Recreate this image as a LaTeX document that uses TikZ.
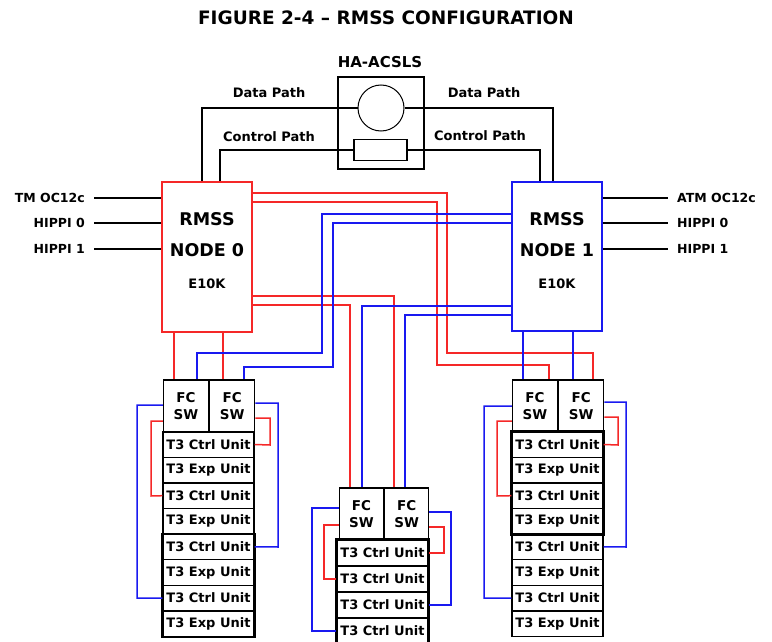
\documentclass[tikz,border=0pt]{standalone}
\usepackage{fontspec}
\setmainfont{DejaVu Sans}
\usetikzlibrary{positioning}
\definecolor{wred}{RGB}{245,40,40}
\definecolor{wblue}{RGB}{25,25,240}

\begin{document}
\begin{tikzpicture}[x=1pt,y=-1pt,
  box/.style={draw, line width=1.3pt, inner sep=0pt},
  redw/.style={wred, line width=1.5pt},
  bluew/.style={wblue, line width=1.5pt},
  blkw/.style={black, line width=1.3pt},
  swbox/.style={box, minimum width=45pt, minimum height=52pt, align=center,
    font=\bfseries\fontsize{13.5}{17}\selectfont},
  unit/.style={box, minimum width=91pt, minimum height=25.6pt,
    font=\bfseries\fontsize{13}{15}\selectfont},
  side/.style={font=\bfseries\fontsize{12.5}{15}\selectfont, inner xsep=9pt},
  pathlbl/.style={font=\bfseries\fontsize{13}{15}\selectfont},
  big/.style={font=\bfseries\fontsize{17.5}{20}\selectfont},
  small/.style={font=\bfseries\fontsize{13}{15}\selectfont}]
\useasboundingbox (0,0) rectangle (772,642);
% Title
\node[font=\bfseries\fontsize{18.5}{22}\selectfont] (title) at (386,18) {FIGURE 2-4 – RMSS CONFIGURATION};
% HA-ACSLS
\node[font=\bfseries\fontsize{15}{18}\selectfont] (hatxt) at (380,62) {HA-ACSLS};
\node[box, minimum width=86pt, minimum height=92pt] (ha) at (381,123) {};
\node[draw, circle, line width=1pt, minimum size=46pt, inner sep=0pt] (circ) at (381,108) {};
\node[draw, line width=1.2pt, minimum width=53pt, minimum height=21.5pt, inner sep=0pt] (ctl) at (380.5,150) {};
% RMSS nodes
\node[box, draw=wred, minimum width=90pt, minimum height=150pt] (n0) at (207,257) {};
\node[box, draw=wblue, minimum width=90pt, minimum height=149pt] (n1) at (557,256.5) {};
\foreach \x/\k in {207/0,557/1} {
  \node[big] (rmss\k) at (\x,219) {RMSS};
  \node[big] (name\k) at (\x,250) {NODE \k};
  \node[small] (host\k) at (\x,284) {E10K};
}
% outside links
\foreach \txt/\y/\i in {TM OC12c/198/a,HIPPI 0/223/b,HIPPI 1/249/c} {
  \node[side, anchor=east] (inl\i) at (94,\y) {\txt};
  \draw[blkw] (inl\i.east) -- (n0.west |- inl\i.east);
}
\foreach \txt/\y/\i in {ATM OC12c/198/a,HIPPI 0/223/b,HIPPI 1/249/c} {
  \node[side, anchor=west] (inr\i) at (668,\y) {\txt};
  \draw[blkw] (n1.east |- inr\i.west) -- (inr\i.west);
}
% Data and control paths
\node[pathlbl] (dpl) at (269,93) {Data Path};
\node[pathlbl] (dpr) at (484,93) {Data Path};
\node[pathlbl] (cpl) at (269,137) {Control Path};
\node[pathlbl] (cpr) at (480,136) {Control Path};
\draw[blkw] (circ.west) -| (n0.north -| 202,0);
\draw[blkw] (circ.east) -| (n1.north -| 553,0);
\draw[blkw] (ctl.west) -| (n0.north -| 220,0);
\draw[blkw] (ctl.east) -| (n1.north -| 540,0);
% FC switches
\node[swbox] (sw1) at (186,406) {FC\\SW};
\node[swbox, right=0pt of sw1] (sw2) {FC\\SW};
\node[swbox, minimum width=44pt] (sw3) at (361.5,514) {FC\\SW};
\node[swbox, minimum width=44pt, right=0pt of sw3] (sw4) {FC\\SW};
\node[swbox] (sw5) at (535,406) {FC\\SW};
\node[swbox, right=0pt of sw5] (sw6) {FC\\SW};
% T3 units
\foreach \i/\kind in {1/Ctrl,2/Exp,3/Ctrl,4/Exp,5/Ctrl,6/Exp,7/Ctrl,8/Exp} {
  \node[unit] (l\i) at (208.5,{431.7+25.6*(\i-0.5)}) {T3 \kind\ Unit};
  \node[unit] (r\i) at (557.5,{431.7+25.6*(\i-0.5)}) {T3 \kind\ Unit};
}
\foreach \i in {1,...,4} {
  \node[unit, minimum height=26pt] (m\i) at (382.5,{540+26*(\i-0.5)}) {T3 Ctrl Unit};
}
\draw[line width=1.9pt] (l5.north west) rectangle (l8.south east);
\draw[line width=1.9pt] (r1.north west) rectangle (r4.south east);
\draw[line width=1.9pt] (m1.north west) rectangle (m4.south east);
% node 0 to switches
\draw[redw] (n0.south -| 174,0) -- (sw1.north -| 174,0);
\draw[redw] (n0.south -| 223,0) -- (sw2.north -| 223,0);
\draw[redw] (n0.east |- 0,193) -| (447,353) -| (sw6.north -| 593,0);
\draw[redw] (n0.east |- 0,202) -| (437,365) -| (sw5.north -| 549,0);
\draw[redw] (n0.east |- 0,296) -| (sw4.north -| 394,0);
\draw[redw] (n0.east |- 0,305) -| (sw3.north -| 350,0);
% node 1 to switches
\draw[bluew] (n1.south -| 523,0) -- (sw5.north -| 523,0);
\draw[bluew] (n1.south -| 573,0) -- (sw6.north -| 573,0);
\draw[bluew] (n1.west |- 0,214) -| (322,353) -| (sw1.north -| 197,0);
\draw[bluew] (n1.west |- 0,223) -| (333,367) -| (sw2.north -| 244,0);
\draw[bluew] (n1.west |- 0,306) -| (sw3.north -| 362,0);
\draw[bluew] (n1.west |- 0,315) -| (sw4.north -| 405,0);
% switches to units, left
\draw[bluew] (sw1.west |- 0,405) -| (137,598) -- (l7.west);
\draw[redw] (sw1.west |- 0,421) -| (151,496) -- (l3.west);
\draw[bluew] (sw2.east |- 0,403) -| (278,547) -- (l5.east);
\draw[redw] (sw2.east |- 0,418) -| (270,445) -- (l1.east);
% middle
\draw[bluew] (sw3.west |- 0,508) -| (312,631) -- (m4.west);
\draw[redw] (sw3.west |- 0,525) -| (324,579) -- (m2.west);
\draw[bluew] (sw4.east |- 0,512) -| (451,605) -- (m3.east);
\draw[redw] (sw4.east |- 0,527) -| (444,553) -- (m1.east);
% right
\draw[bluew] (sw5.west |- 0,406) -| (484,598) -- (r7.west);
\draw[redw] (sw5.west |- 0,421) -| (497,496) -- (r3.west);
\draw[bluew] (sw6.east |- 0,402) -| (626,547) -- (r5.east);
\draw[redw] (sw6.east |- 0,417) -| (618,445) -- (r1.east);
\end{tikzpicture}
\end{document}
